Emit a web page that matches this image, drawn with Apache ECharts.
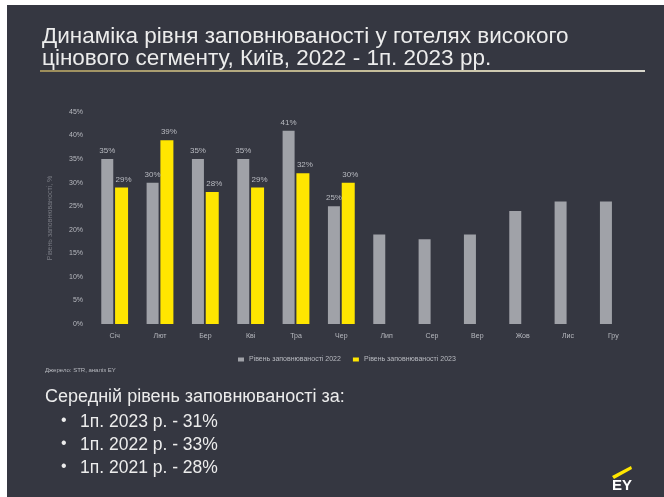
<!DOCTYPE html>
<html>
<head>
<meta charset="utf-8">
<script src="https://cdn.jsdelivr.net/npm/echarts@6/dist/echarts.min.js"></script>
<style>
  html, body { margin: 0; padding: 0; background: #ffffff; }
  #chart { position: absolute; left: 7px; top: 5px; width: 657px; height: 492px; }
</style>
</head>
<body>
<div id="chart"></div>
<script>
// Monthly labels (Ukrainian abbreviations)
const months = ['Січ', 'Лют', 'Бер', 'Кві', 'Тра', 'Чер', 'Лип', 'Сер', 'Вер', 'Жов', 'Лис', 'Гру'];

// Occupancy, %, high price segment hotels in Kyiv
const occupancy2022 = [35, 30, 35, 35, 41, 25, 19, 18, 19, 24, 26, 26];
const occupancy2023 = [29, 39, 28, 29, 32, 30, null, null, null, null, null, null];

const seriesNames = ['Рівень заповнюваності 2022', 'Рівень заповнюваності 2023'];

// Value axis ticks
const yMin = 0, yMax = 45, yStep = 5;

// Months of 2022 that carry a value label (first half-year)
const labelledMonths = 6;

const titleLines = [
  'Динаміка рівня заповнюваності у готелях високого',
  'цінового сегменту, Київ, 2022 - 1п. 2023 рр.'
];
const summaryHeading = 'Середній рівень заповнюваності за:';
const summaryLines = ['1п. 2023 р. - 31%', '1п. 2022 р. - 33%', '1п. 2021 р. - 28%'];
const sourceNote = 'Джерело: STR, аналіз EY';
const yAxisName = 'Рівень заповнюваності, %';

const FONT = '"Liberation Sans", Arial, sans-serif';
const BG = '#353741';
const GREY = '#a0a2a8';
const YELLOW = '#ffe600';
const TXT = '#ececec';
const SMALL = '#b8bac0';

const chart = echarts.init(document.getElementById('chart'), null, { renderer: 'canvas' });

const summaryGraphics = [];
summaryGraphics.push({
  type: 'text', left: 38, top: 383,
  style: { text: summaryHeading, fill: TXT, font: '18px ' + FONT }
});
summaryLines.forEach((line, i) => {
  summaryGraphics.push({
    type: 'text', left: 54, top: 408 + i * 23,
    style: { text: '•', fill: TXT, font: '16px ' + FONT }
  });
  summaryGraphics.push({
    type: 'text', left: 73, top: 408 + i * 23,
    style: { text: line, fill: TXT, font: '17.5px ' + FONT }
  });
});

const option = {
  backgroundColor: BG,
  animation: false,
  title: {
    text: titleLines.join('\n'),
    left: 35, top: 21, padding: 0,
    textStyle: { color: TXT, fontFamily: FONT, fontSize: 22.5, fontWeight: 'normal', lineHeight: 22 }
  },
  legend: {
    data: seriesNames,
    left: 226, top: 346,
    itemWidth: 6, itemHeight: 4, itemGap: 12,
    icon: 'rect',
    textStyle: { color: SMALL, fontFamily: FONT, fontSize: 7 }
  },
  grid: { left: 85, right: 28, top: 107, bottom: 173, containLabel: false },
  xAxis: {
    type: 'category',
    data: months,
    axisLine: { show: false },
    axisTick: { show: false },
    axisLabel: { color: SMALL, fontFamily: FONT, fontSize: 7, margin: 9 }
  },
  yAxis: {
    type: 'value',
    min: yMin, max: yMax, interval: yStep,
    name: yAxisName,
    nameLocation: 'middle',
    nameGap: 38,
    nameTextStyle: { color: '#7a7c84', fontFamily: FONT, fontSize: 7 },
    axisLine: { show: false },
    axisTick: { show: false },
    splitLine: { show: false },
    axisLabel: { color: SMALL, fontFamily: FONT, fontSize: 7, margin: 9, formatter: '{value}%' }
  },
  series: [
    {
      name: seriesNames[0],
      type: 'bar',
      data: occupancy2022,
      barWidth: 12,
      barGap: '15%',
      itemStyle: { color: GREY },
      label: {
        show: true, position: 'top', distance: 4,
        color: SMALL, fontFamily: FONT, fontSize: 8,
        formatter: p => (p.dataIndex < labelledMonths ? p.value + '%' : '')
      }
    },
    {
      name: seriesNames[1],
      type: 'bar',
      data: occupancy2023,
      barWidth: 13,
      itemStyle: { color: YELLOW },
      label: {
        show: true, position: 'top', distance: 4, offset: [2, 0],
        color: SMALL, fontFamily: FONT, fontSize: 8,
        formatter: p => p.value + '%'
      }
    }
  ],
  graphic: [
    // title underline
    {
      type: 'rect',
      shape: { x: 33, y: 65, width: 605, height: 2 },
      style: {
        fill: new echarts.graphic.LinearGradient(0, 0, 1, 0, [
          { offset: 0, color: '#9c8d5a' },
          { offset: 0.6, color: '#c9c2a0' },
          { offset: 1, color: '#d8d6cc' }
        ])
      }
    },
    {
      type: 'text', left: 38, top: 362,
      style: { text: sourceNote, fill: SMALL, font: '6px ' + FONT }
    },
    ...summaryGraphics,
    // EY logo
    {
      type: 'polygon',
      shape: { points: [[605, 471], [624, 461], [625, 464], [607, 474]] },
      style: { fill: YELLOW }
    },
    {
      type: 'text', left: 605, top: 473,
      style: { text: 'EY', fill: '#ffffff', font: 'bold 15px ' + FONT }
    }
  ]
};

chart.setOption(option);
</script>
</body>
</html>
